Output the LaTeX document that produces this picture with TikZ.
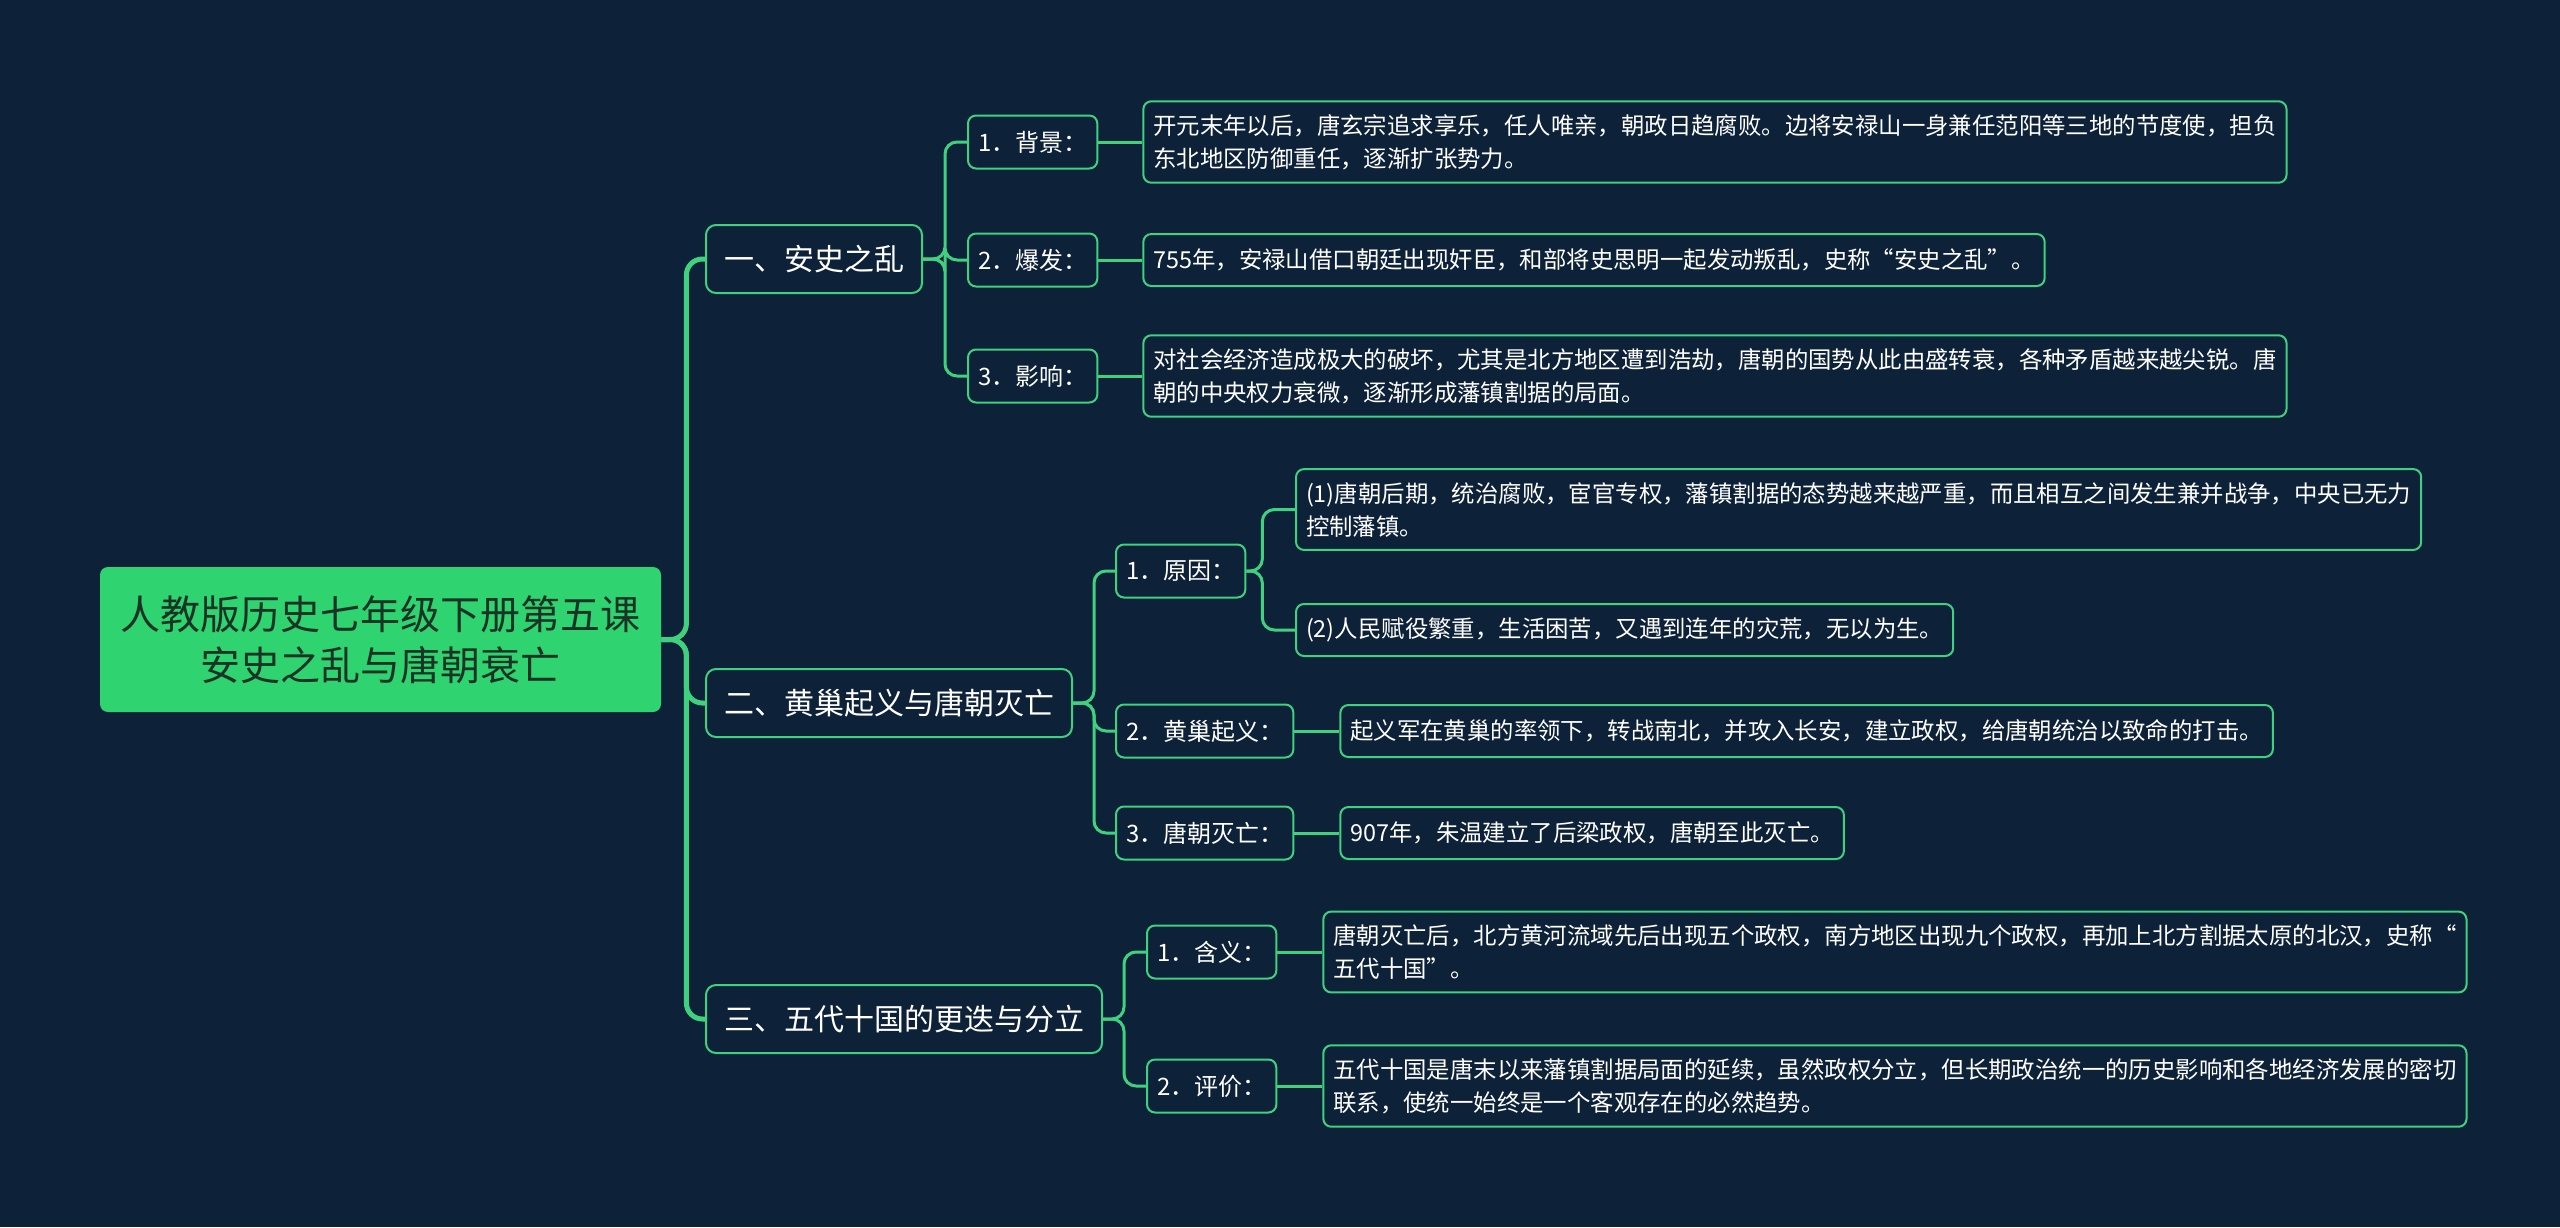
\documentclass[tikz,border=0pt]{standalone}
\usepackage{fontspec}
\setmainfont{Noto Sans CJK SC}
\usetikzlibrary{positioning}
\definecolor{bgnavy}{HTML}{0D2139}
\definecolor{mapgreen}{HTML}{3FD17D}
\definecolor{rootgreen}{HTML}{2FD36F}
\definecolor{rootink}{HTML}{1A3324}

\begin{document}
\begin{tikzpicture}[
    x=0.5pt, y=-0.5pt,
    node distance=22pt,
    rootbox/.style={fill=rootgreen, text=rootink, rounded corners=4pt, align=center, font=\fontsize{20}{25.5}\selectfont, minimum width=280.5pt, minimum height=72.5pt},
    topicbox/.style={draw=mapgreen, line width=1pt, fill=bgnavy, text=white, rounded corners=5pt, font=\fontsize{15}{18}\selectfont, inner xsep=9pt, minimum height=34pt, anchor=west},
    headbox/.style={draw=mapgreen, line width=1pt, fill=bgnavy, text=white, rounded corners=4pt, font=\fontsize{12}{16}\selectfont, inner xsep=5pt, minimum height=26.5pt, anchor=west},
    notebox/.style={draw=mapgreen, line width=1pt, fill=bgnavy, text=white, rounded corners=4pt, font=\fontsize{11.7}{16.5}\selectfont, align=left, inner xsep=5pt, inner ysep=6.5pt, minimum height=26pt},
    trunk/.style={draw=mapgreen, line width=2.5pt, rounded corners=8pt},
    twig/.style={draw=mapgreen, line width=1.5pt, rounded corners=6pt}
]
\useasboundingbox[fill=bgnavy] (0,0) rectangle (2560,1227);

% root and main topics
\node[rootbox] (root) at (380.5,639.5) {人教版历史七年级下册第五课\\安史之乱与唐朝衰亡};
\node[topicbox] (asl) at (705,259) {一、安史之乱};
\node[topicbox] (hcq) at (705,703) {二、黄巢起义与唐朝灭亡};
\node[topicbox] (wdsg) at (705,1019) {三、五代十国的更迭与分立};

% branch one
\node[headbox] (bj) at (967,142) {1．背景：};
\node[headbox] (bf) at (967,260) {2．爆发：};
\node[headbox] (yx) at (967,376) {3．影响：};
\node[notebox, right=of bj] (bjtxt) {开元末年以后，唐玄宗追求享乐，任人唯亲，朝政日趋腐败。边将安禄山一身兼任范阳等三地的节度使，担负\\东北地区防御重任，逐渐扩张势力。};
\node[notebox, right=of bf] (bftxt) {755年，安禄山借口朝廷出现奸臣，和部将史思明一起发动叛乱，史称“安史之乱”。};
\node[notebox, right=of yx] (yxtxt) {对社会经济造成极大的破坏，尤其是北方地区遭到浩劫，唐朝的国势从此由盛转衰，各种矛盾越来越尖锐。唐\\朝的中央权力衰微，逐渐形成藩镇割据的局面。};

% branch two
\node[headbox] (yy) at (1115,571) {1．原因：};
\node[headbox] (hc) at (1115,731) {2．黄巢起义：};
\node[headbox] (mw) at (1115,833) {3．唐朝灭亡：};
\node[notebox, anchor=west] (yy1) at (1295,509.5) {(1)唐朝后期，统治腐败，宦官专权，藩镇割据的态势越来越严重，而且相互之间发生兼并战争，中央已无力\\控制藩镇。};
\node[notebox, anchor=west] (yy2) at (1295,630) {(2)人民赋役繁重，生活困苦，又遇到连年的灾荒，无以为生。};
\node[notebox, right=22.5pt of hc] (hctxt) {起义军在黄巢的率领下，转战南北，并攻入长安，建立政权，给唐朝统治以致命的打击。};
\node[notebox, right=22.5pt of mw] (mwtxt) {907年，朱温建立了后梁政权，唐朝至此灭亡。};

% branch three
\node[headbox] (hy) at (1146,952) {1．含义：};
\node[headbox] (pj) at (1146,1086) {2．评价：};
\node[notebox, right=22.5pt of hy] (hytxt) {唐朝灭亡后，北方黄河流域先后出现五个政权，南方地区出现九个政权，再加上北方割据太原的北汉，史称“\\五代十国”。};
\node[notebox, right=22.5pt of pj] (pjtxt) {五代十国是唐末以来藩镇割据局面的延续，虽然政权分立，但长期政治统一的历史影响和各地经济发展的密切\\联系，使统一始终是一个客观存在的必然趋势。};

% connectors
\draw[trunk] (root.east) -- ++(25,0) |- (asl.west);
\draw[trunk] (root.east) -- ++(25,0) |- (hcq.west);
\draw[trunk] (root.east) -- ++(25,0) |- (wdsg.west);

\foreach \kid in {bj,bf,yx}
  \draw[twig] (asl.east) -- ++(22,0) |- (\kid.west);
\foreach \kid in {yy,hc,mw}
  \draw[twig] (hcq.east) -- ++(21,0) |- (\kid.west);
\foreach \kid in {hy,pj}
  \draw[twig] (wdsg.east) -- ++(21,0) |- (\kid.west);
\foreach \kid in {yy1,yy2}
  \draw[twig] (yy.east) -- ++(16,0) |- (\kid.west);

\draw[twig] (bj) -- (bjtxt);
\draw[twig] (bf) -- (bftxt);
\draw[twig] (yx) -- (yxtxt);
\draw[twig] (hc) -- (hctxt);
\draw[twig] (mw) -- (mwtxt);
\draw[twig] (hy) -- (hytxt);
\draw[twig] (pj) -- (pjtxt);
\end{tikzpicture}
\end{document}
